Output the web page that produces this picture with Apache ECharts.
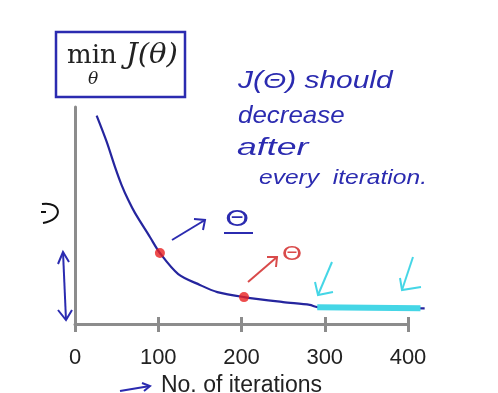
<!DOCTYPE html>
<html>
<head>
<meta charset="utf-8">
<script src="https://cdn.jsdelivr.net/npm/echarts@6/dist/echarts.min.js"></script>
<style>
html,body{margin:0;padding:0;background:#fff;}
#chart{width:498px;height:393px;}
</style>
</head>
<body>
<div id="chart"></div>
<script>
// Data
const iterations = [26, 38, 48, 56, 64, 72, 90, 102, 124, 150, 171, 203, 250, 282, 291, 330, 380, 420];
const cost       = [96, 84, 72.4, 64, 57.1, 51.2, 40.1, 32.7, 23, 18, 14.7, 12.4, 10.1, 8.8, 7.8, 7.5, 7.3, 7.2];
const highlightIter = [102, 203];
const highlightCost = [32.7, 12.4];
const flatIter = [291, 415];
const flatCost = [7.7, 7.3];
const xTicks = [0, 100, 200, 300, 400];
const xName = 'No. of iterations';
const noteLines = ['J(Θ) should', 'decrease', 'after', 'every  iteration.'];

const curve = iterations.map((v, i) => [v, cost[i]]);
const dots = highlightIter.map((v, i) => [v, highlightCost[i]]);
const flat = flatIter.map((v, i) => [v, flatCost[i]]);

const BLUE = '#2b2bb0';
const NAVY = '#25259e';
const CYAN = '#45d6e6';
const RED = '#d94a4a';
const GRAY = '#8c8c8c';

// plot scale: axis 0..400 over 333px; series grid extends to 440 with same scale
const PX_PER_UNIT = 333 / 400;
const seriesRight = 498 - (75 + 440 * PX_PER_UNIT);

function arrow(pts, head, color, w) {
  return [
    { type: 'polyline', shape: { points: pts }, style: { stroke: color, lineWidth: w, fill: null }, z: 10 },
    { type: 'polyline', shape: { points: head }, style: { stroke: color, lineWidth: w, fill: null }, z: 10 }
  ];
}
function txt(x, y, s, font, color, extra) {
  return Object.assign({ type: 'text', x: x, y: y, style: { text: s, font: font, fill: color, verticalAlign: 'top' }, z: 11 }, extra || {});
}

const chart = echarts.init(document.getElementById('chart'), null, { renderer: 'canvas' });

const graphics = [
  // title box
  { type: 'rect', shape: { x: 56, y: 32, width: 129, height: 65 }, style: { stroke: BLUE, lineWidth: 2.5, fill: null }, z: 10 },
  txt(67, 43, 'min', '26px "DejaVu Serif"', '#222'),
  txt(126, 42, 'J(θ)', 'italic 27px "DejaVu Serif"', '#222', { scaleX: 1.08 }),
  txt(88, 71, 'θ', 'italic 17px "DejaVu Serif"', '#222'),
  // handwritten note
  txt(238, 70, noteLines[0], 'italic 23px "Liberation Sans"', BLUE, { scaleX: 1.3 }),
  txt(238, 104, noteLines[1], 'italic 24px "Liberation Sans"', BLUE, { scaleX: 1.08 }),
  txt(237, 137, noteLines[2], 'italic 23px "Liberation Sans"', BLUE, { scaleX: 1.55 }),
  txt(259, 168, noteLines[3], 'italic 21px "Liberation Sans"', BLUE, { scaleX: 1.17 }),
  // theta labels near arrows
  { type: 'text', x: 237, y: 220, style: { text: 'Θ', font: '22px "DejaVu Sans"', fill: BLUE, align: 'center', verticalAlign: 'middle' }, scaleX: 1.4, z: 11 },
  { type: 'line', shape: { x1: 224, y1: 233, x2: 253, y2: 233 }, style: { stroke: BLUE, lineWidth: 2 }, z: 10 },
  { type: 'text', x: 292, y: 255, style: { text: 'Θ', font: '20px "DejaVu Sans"', fill: RED, align: 'center', verticalAlign: 'middle' }, scaleX: 1.3, z: 11 },
  // left J hint
  { type: 'bezierCurve', shape: { x1: 42, y1: 204, cpx1: 62, cpy1: 201, cpx2: 64, cpy2: 220, x2: 43, y2: 223 }, style: { stroke: '#111', lineWidth: 2, fill: null }, z: 10 },
  { type: 'line', shape: { x1: 41, y1: 212, x2: 46, y2: 212 }, style: { stroke: '#111', lineWidth: 2 }, z: 10 }
].concat(
  arrow([[172, 240], [205, 220]], [[194, 219], [205, 220], [203, 230]], BLUE, 2),
  arrow([[248, 282], [277, 257]], [[267, 257], [277, 257], [276, 267]], RED, 2),
  arrow([[332, 262], [318, 295]], [[315, 282], [318, 295], [333, 292]], CYAN, 2),
  arrow([[413, 257], [402, 290]], [[400, 278], [402, 290], [421, 287]], CYAN, 2),
  arrow([[63, 252], [66, 320]], [[58, 264], [63, 252], [69, 262]], BLUE, 2),
  [{ type: 'polyline', shape: { points: [[58, 310], [66, 320], [72, 310]] }, style: { stroke: BLUE, lineWidth: 2, fill: null }, z: 10 }],
  arrow([[120, 391], [150, 386]], [[142, 383], [150, 386], [144, 391]], BLUE, 2)
);

chart.setOption({
  animation: false,
  backgroundColor: '#ffffff',
  grid: [
    { left: 75, right: 90, top: 107, bottom: 69, containLabel: false, outerBoundsMode: 'none' },
    { left: 75, right: seriesRight, top: 107, bottom: 69, containLabel: false, outerBoundsMode: 'none' }
  ],
  xAxis: [{
    type: 'value', min: 0, max: 400, interval: 100, gridIndex: 0,
    position: 'bottom',
    name: xName, nameLocation: 'middle', nameGap: 47,
    nameTextStyle: { fontSize: 23, fontFamily: 'Liberation Sans', color: '#222' },
    axisLine: { show: true, lineStyle: { color: GRAY, width: 3 } },
    axisTick: { show: true, length: 8, lineStyle: { color: GRAY, width: 3 } },
    axisLabel: { margin: 23, fontSize: 22, fontFamily: 'Liberation Sans', color: '#222',
      formatter: v => xTicks.indexOf(v) >= 0 ? String(v) : '' },
    splitLine: { show: false }
  }, {
    type: 'value', min: 0, max: 400, interval: 100, gridIndex: 0,
    position: 'bottom',
    axisLine: { show: false },
    axisTick: { show: true, inside: true, length: 7, lineStyle: { color: GRAY, width: 3 } },
    axisLabel: { show: false },
    splitLine: { show: false }
  }, {
    type: 'value', min: 0, max: 440, gridIndex: 1, show: false
  }],
  yAxis: [{
    type: 'value', min: 0, max: 100, gridIndex: 0,
    axisLine: { show: true, lineStyle: { color: GRAY, width: 3 } },
    axisTick: { show: false },
    axisLabel: { show: false },
    splitLine: { show: false }
  }, {
    type: 'value', min: 0, max: 100, gridIndex: 1, show: false
  }],
  series: [
    { type: 'line', data: curve, smooth: 0.3, showSymbol: false, xAxisIndex: 2, yAxisIndex: 1,
      lineStyle: { color: NAVY, width: 2.2 }, z: 3 },
    { type: 'line', data: flat, showSymbol: false, xAxisIndex: 2, yAxisIndex: 1,
      lineStyle: { color: CYAN, width: 6 }, z: 4 },
    { type: 'scatter', data: dots, symbolSize: 10, xAxisIndex: 2, yAxisIndex: 1,
      itemStyle: { color: '#e82020' }, z: 5 }
  ],
  graphic: graphics
});
</script>
</body>
</html>
